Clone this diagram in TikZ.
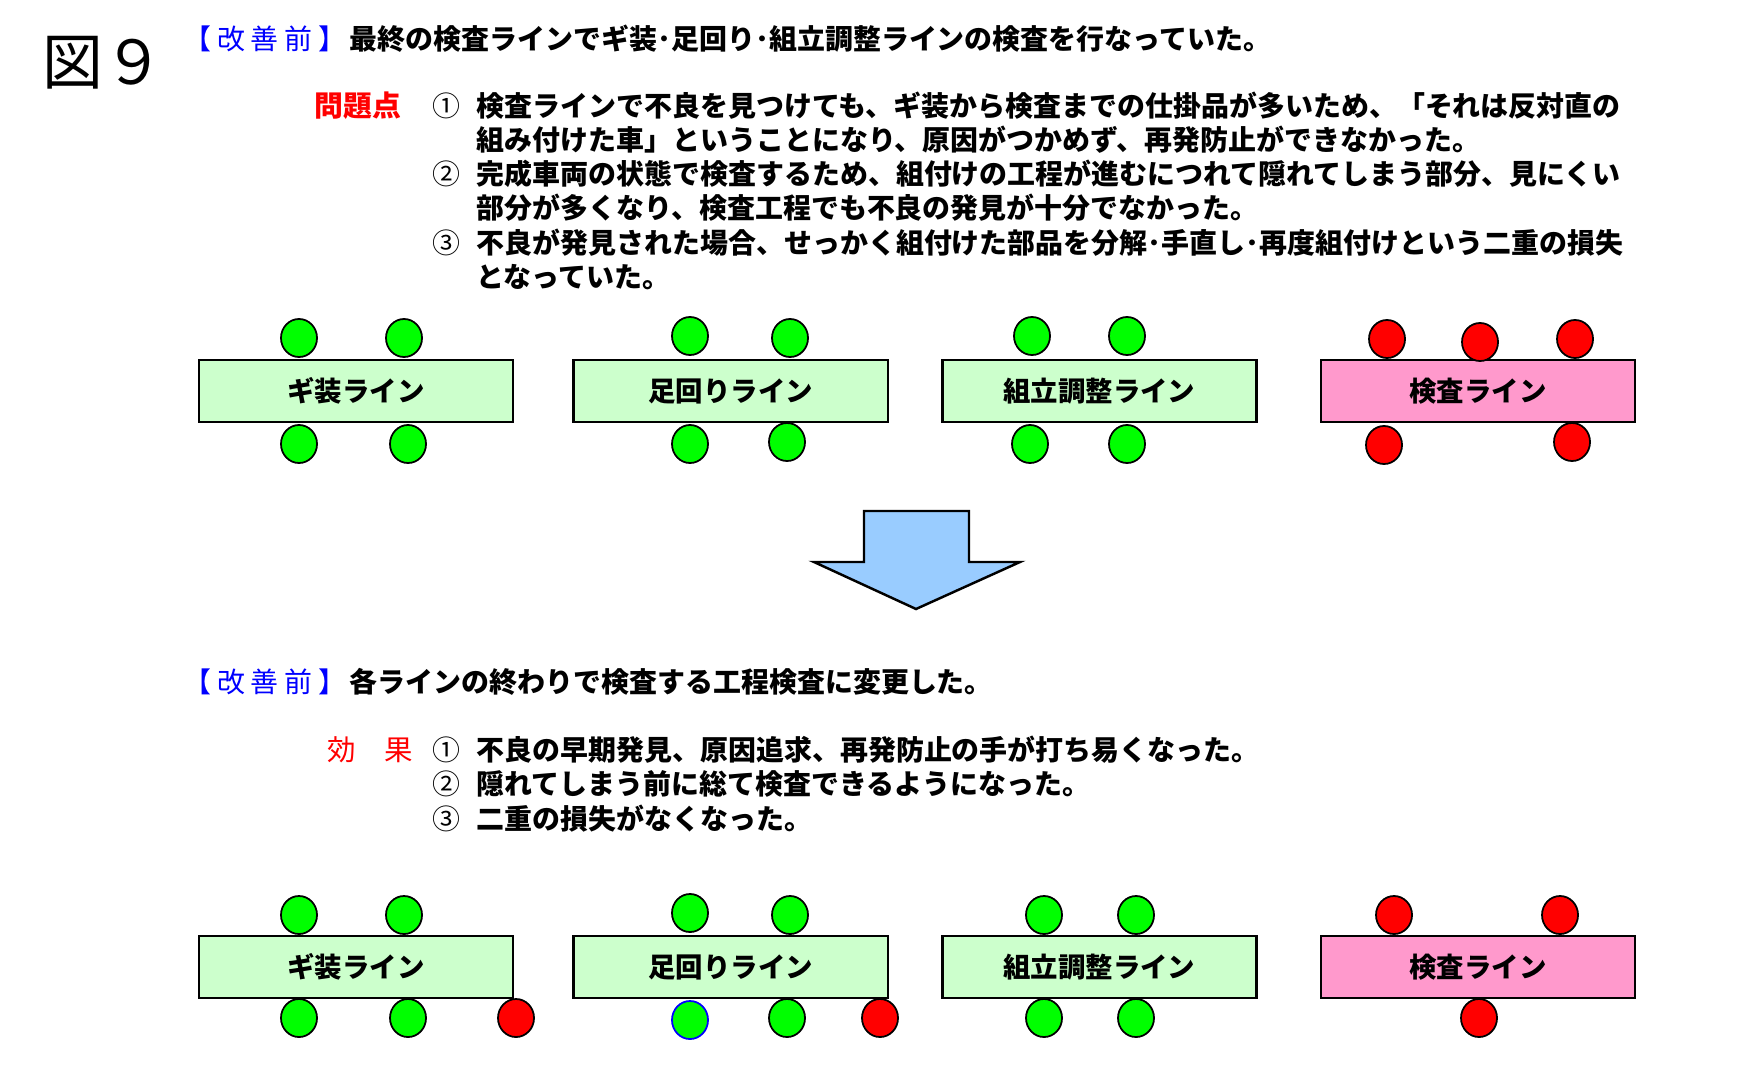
\documentclass[tikz,border=0pt]{standalone}
\usepackage{fontspec}
\setmainfont{Noto Sans CJK JP}
\usepackage{tikz}
\usetikzlibrary{shapes.geometric}
\usetikzlibrary{positioning}
\definecolor{linegreen}{RGB}{204,255,204}
\definecolor{linepink}{RGB}{255,153,204}
\definecolor{partgreen}{RGB}{0,255,0}
\definecolor{partred}{RGB}{255,0,0}
\definecolor{arrowblue}{RGB}{153,204,255}
\newcommand{\kaizen}{\textcolor{blue}{\mdseries 【\kern1.6pt 改\kern1.6pt 善\kern1.6pt 前\kern1.6pt 】}\kern1.1pt}
\tikzstyle{linebox} = [rectangle, draw = black, fill = linegreen, minimum width=3.14cm, minimum height=0.62cm, line width=0.7pt, font=\bfseries\fontsize{7.8}{9.7}\selectfont]
\tikzstyle{checkbox} = [linebox, fill = linepink]
\tikzstyle{okpart} = [ellipse, draw = black, fill = partgreen, minimum width=0.36cm, minimum height=0.38cm, inner sep=0pt, line width=0.5pt]
\tikzstyle{ngpart} = [okpart, fill = partred]
\tikzstyle{body} = [inner sep=0pt, anchor=west, align=left, font=\bfseries\fontsize{7.95}{9.67}\selectfont]
\tikzstyle{num} = [body, font=\mdseries\fontsize{7.95}{9.67}\selectfont]

\begin{document}
\begin{tikzpicture}[x=0.01cm, y=-0.01cm]
		\useasboundingbox (0,0) rectangle (1737,1073);
		
		\node (fig) [inner sep=0pt, anchor=west, font=\fontsize{17.3}{20}\selectfont] at (42,63) {図９};
		
		% before
		\node (t1) [body] at (183,39) {\kaizen 最終の検査ラインでギ装･足回り･組立調整ラインの検査を行なっていた。};
		
		\node (prob) [body, text=red, font=\bfseries\fontsize{8.2}{9.67}\selectfont] at (314,106) {問題点};
		
		\node (n1) [num] at (432,106) {①};
		\node (p1) [body] at (476,123) {検査ラインで不良を見つけても、ギ装から検査までの仕掛品が多いため、「それは反対直の\\組み付けた車」ということになり、原因がつかめず、再発防止ができなかった。};
		
		\node (n2) [num] at (432,174) {②};
		\node (p2) [body] at (476,191) {完成車両の状態で検査するため、組付けの工程が進むにつれて隠れてしまう部分、見にくい\\部分が多くなり、検査工程でも不良の発見が十分でなかった。};
		
		\node (n3) [num] at (432,243) {③};
		\node (p3) [body] at (476,259.5) {不良が発見された場合、せっかく組付けた部品を分解･手直し･再度組付けという二重の損失\\となっていた。};
		
		\node (L1) [linebox] at (356,391) {ギ装ライン};
		\node (L2) [linebox, right = 0.58cm of L1] {足回りライン};
		\node (L3) [linebox, right = 0.52cm of L2] {組立調整ライン};
		\node (L4) [checkbox, right = 0.62cm of L3] {検査ライン};
		
		\node (L1up1) [okpart] at (299,338) {};
		\node (L1up2) [okpart] at (404,338) {};
		\node (L1dn1) [okpart] at (299,444) {};
		\node (L1dn2) [okpart] at (408,444) {};
		
		\node (L2up1) [okpart] at (690,336) {};
		\node (L2up2) [okpart] at (790,338) {};
		\node (L2dn1) [okpart] at (690,444) {};
		\node (L2dn2) [okpart] at (787,442) {};
		
		\node (L3up1) [okpart] at (1032,336) {};
		\node (L3up2) [okpart] at (1127,336) {};
		\node (L3dn1) [okpart] at (1030,444) {};
		\node (L3dn2) [okpart] at (1127,444) {};
		
		\node (L4up1) [ngpart] at (1387,339) {};
		\node (L4up2) [ngpart] at (1480,342) {};
		\node (L4up3) [ngpart] at (1575,339) {};
		\node (L4dn1) [ngpart] at (1384,445) {};
		\node (L4dn2) [ngpart] at (1572,442) {};
		
		% arrow
		\draw [fill = arrowblue, line width=0.7pt] (864,511) -- (969,511) -- (969,562) -- (1020,562) -- (916,609) -- (814,562) -- (864,562) -- cycle;
		
		% after
		\node (t2) [body] at (183,682) {\kaizen 各ラインの終わりで検査する工程検査に変更した。};
		
		\node (eff) [body, text=red, font=\mdseries\fontsize{8.1}{9.67}\selectfont] at (327,750) {効　果};
		
		\node (m1) [num] at (432,750) {①};
		\node (e1) [body] at (476,750) {不良の早期発見、原因追求、再発防止の手が打ち易くなった。};
		\node (m2) [num] at (432,784) {②};
		\node (e2) [body] at (476,784) {隠れてしまう前に総て検査できるようになった。};
		\node (m3) [num] at (432,819) {③};
		\node (e3) [body] at (476,819) {二重の損失がなくなった。};
		
		\node (M1) [linebox] at (356,967) {ギ装ライン};
		\node (M2) [linebox, right = 0.58cm of M1] {足回りライン};
		\node (M3) [linebox, right = 0.52cm of M2] {組立調整ライン};
		\node (M4) [checkbox, right = 0.62cm of M3] {検査ライン};
		
		\node (M1up1) [okpart] at (299,915) {};
		\node (M1up2) [okpart] at (404,915) {};
		\node (M1dn1) [okpart] at (299,1018) {};
		\node (M1dn2) [okpart] at (408,1018) {};
		\node (M1dn3) [ngpart] at (516,1018) {};
		
		\node (M2up1) [okpart] at (690,913) {};
		\node (M2up2) [okpart] at (790,915) {};
		\node (M2dn1) [okpart, draw = blue] at (690,1020) {};
		\node (M2dn2) [okpart] at (787,1018) {};
		\node (M2dn3) [ngpart] at (880,1018) {};
		
		\node (M3up1) [okpart] at (1044,915) {};
		\node (M3up2) [okpart] at (1136,915) {};
		\node (M3dn1) [okpart] at (1044,1018) {};
		\node (M3dn2) [okpart] at (1136,1018) {};
		
		\node (M4up1) [ngpart] at (1394,915) {};
		\node (M4up2) [ngpart] at (1560,915) {};
		\node (M4dn1) [ngpart] at (1479,1018) {};
		
\end{tikzpicture}
\end{document}
